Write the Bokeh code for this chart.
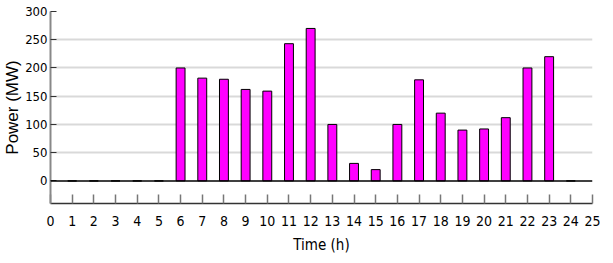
from bokeh.plotting import figure
from bokeh.models import FixedTicker, Range1d, Span
from bokeh.embed import file_html
from bokeh.resources import INLINE

hours = list(range(1, 25))
power = [0, 0, 0, 0, 0, 200, 182, 180, 162, 159, 243, 270, 100, 31, 20,
         100, 179, 120, 90, 92, 112, 200, 220, 0]
x_ticks = list(range(0, 26))
y_ticks = [0, 50, 100, 150, 200, 250, 300]

p = figure(width=600, height=256, output_backend="svg", toolbar_location=None,
           x_range=Range1d(0, 25), y_range=Range1d(-40, 300),
           min_border_left=43, min_border_right=8, min_border_top=11, min_border_bottom=52)
p.outline_line_color = None
p.background_fill_color = "white"

p.xgrid.grid_line_color = None
p.ygrid.grid_line_color = "#d9d9d9"
p.ygrid.grid_line_width = 2
p.ygrid.ticker = FixedTicker(ticks=y_ticks[1:])

p.add_layout(Span(location=0, dimension="width", line_color="black", line_width=1.5))

p.vbar(x=hours, top=power, bottom=0, width=0.41, fill_color="#ff00ff",
       line_color="black", line_width=1)

tick_font = "'Liberation Sans Narrow', 'DejaVu Sans Condensed', 'Roboto Condensed', 'Liberation Sans', sans-serif"

p.xaxis.ticker = FixedTicker(ticks=x_ticks)
p.xaxis.axis_label = "Time (h)"
p.xaxis.axis_label_text_font = tick_font
p.xaxis.axis_label_text_font_style = "normal"
p.xaxis.axis_label_text_font_size = "15px"
p.xaxis.axis_label_text_color = "black"
p.xaxis.axis_label_standoff = 7
p.xaxis.major_label_text_font = tick_font
p.xaxis.major_label_text_font_size = "14px"
p.xaxis.major_label_text_color = "black"
p.xaxis.major_label_standoff = 12
p.xaxis.major_tick_in = 9
p.xaxis.major_tick_out = 0
p.xaxis.major_tick_line_color = "#777777"
p.xaxis.major_tick_line_width = 1.5
p.xaxis.minor_tick_line_color = None
p.xaxis.axis_line_color = "#333333"
p.xaxis.axis_line_width = 1.5

p.yaxis.ticker = FixedTicker(ticks=y_ticks)
p.yaxis.axis_label = "Power (MW)"
p.yaxis.axis_label_text_font = "'Liberation Sans', sans-serif"
p.yaxis.axis_label_text_font_style = "normal"
p.yaxis.axis_label_text_font_size = "17px"
p.yaxis.axis_label_text_color = "black"
p.yaxis.axis_label_standoff = 0
p.yaxis.major_label_text_font = tick_font
p.yaxis.major_label_text_font_size = "13px"
p.yaxis.major_label_text_color = "black"
p.yaxis.major_label_standoff = 3
p.yaxis.major_tick_in = 6
p.yaxis.major_tick_out = 0
p.yaxis.major_tick_line_color = "#333333"
p.yaxis.minor_tick_line_color = None
p.yaxis.axis_line_color = "#888888"
p.yaxis.axis_line_width = 2

open("out.html", "w").write(file_html(p, INLINE))
